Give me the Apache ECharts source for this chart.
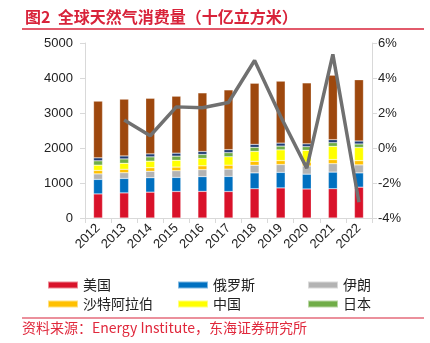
<!DOCTYPE html>
<html><head><meta charset="utf-8">
<script src="https://cdn.jsdelivr.net/npm/echarts@6/dist/echarts.min.js"></script>
<style>html,body{margin:0;padding:0;background:#fff}#c{width:430px;height:343px}</style>
</head><body><div id="c"></div>
<script>
const years = ['2012','2013','2014','2015','2016','2017','2018','2019','2020','2021','2022'];
const us     = [688, 717, 739, 758, 761, 757, 835, 860, 829, 836, 881];
const russia = [416, 414, 411, 402, 421, 431, 454, 444, 423, 475, 408];
const iran   = [156, 162, 184, 190, 199, 209, 219, 224, 234, 242, 229];
const saudi  = [99, 100, 102, 105, 110, 112, 112, 111, 113, 117, 120];
const china  = [151, 171, 188, 195, 209, 241, 283, 308, 336, 378, 376];
const japan  = [124, 124, 123, 118, 116, 117, 116, 108, 104, 104, 101];
const otherA = [85, 85, 85, 85, 85, 85, 85, 85, 80, 85, 85];
const rest   = [1620, 1623, 1588, 1627, 1674, 1708, 1746, 1770, 1741, 1843, 1750];
const growth = [null, 1.6, 0.7, 2.35, 2.3, 2.6, 5.0, 1.8, -1.15, 5.35, -3.1];
const leftTicks = [0, 1000, 2000, 3000, 4000, 5000];

const FONT = '"Noto Sans CJK SC", "Noto Sans", sans-serif';
const NUMFONT = '"Liberation Sans", Arial, sans-serif';
const chart = echarts.init(document.getElementById('c'), null, {renderer: 'canvas'});
const barStyle = c => ({color: c, borderColor: 'rgba(255,255,255,0.5)', borderWidth: 0.5});
function bar(name, data, color) {
  return {name, type: 'bar', stack: 'a', data, barWidth: 9, itemStyle: barStyle(color), yAxisIndex: 0};
}
const legendCommon = {orient: 'vertical', top: 273, itemWidth: 30, itemHeight: 7, itemGap: 5, icon: 'rect',
  textStyle: {fontSize: 14, color: '#222', fontFamily: FONT}, selectedMode: false};
chart.setOption({
  animation: false,
  textStyle: {fontFamily: FONT},
  grid: {left: 85, right: 58, top: 43, bottom: 125},
  title: {text: '图2  全球天然气消费量（十亿立方米）', left: 20, top: 4,
    textStyle: {fontSize: 16, fontWeight: 'bold', color: '#d8233a', fontFamily: FONT}},
  legend: [
    Object.assign({left: 42, data: ['美国', '沙特阿拉伯']}, legendCommon),
    Object.assign({left: 172, data: ['俄罗斯', '中国']}, legendCommon),
    Object.assign({left: 302, data: ['伊朗', '日本']}, legendCommon)
  ],
  xAxis: {type: 'category', data: years,
    axisLine: {lineStyle: {color: '#d9d9d9'}},
    axisTick: {show: true, lineStyle: {color: '#d9d9d9'}},
    axisLabel: {rotate: 45, fontSize: 13, color: '#222', margin: 8, fontFamily: NUMFONT}},
  yAxis: [
    {type: 'value', min: leftTicks[0], max: leftTicks[leftTicks.length - 1], interval: 1000,
      axisLine: {show: true, lineStyle: {color: '#d9d9d9'}},
      axisTick: {show: true, lineStyle: {color: '#d9d9d9'}},
      splitLine: {show: false},
      axisLabel: {fontSize: 13, color: '#222', margin: 12, fontFamily: NUMFONT, formatter: v => String(v)}},
    {type: 'value', min: -4, max: 6, interval: 2,
      axisLine: {show: true, lineStyle: {color: '#d9d9d9'}},
      axisTick: {show: true, lineStyle: {color: '#d9d9d9'}},
      splitLine: {show: false},
      axisLabel: {fontSize: 13, color: '#222', margin: 6, formatter: '{value}%', fontFamily: NUMFONT}}
  ],
  graphic: [
    {type: 'line', shape: {x1: 22, y1: 29, x2: 424, y2: 29}, style: {stroke: '#d8233a', lineWidth: 1.5}},
    {type: 'line', shape: {x1: 22, y1: 318, x2: 424, y2: 318}, style: {stroke: '#d8233a', lineWidth: 1.2}},
    {type: 'text', left: 22, top: 321, style: {text: '资料来源：Energy Institute，东海证券研究所', fill: '#e0283c', fontSize: 14, fontFamily: FONT}}
  ],
  series: [
    bar('美国', us, '#d9122a'),
    bar('俄罗斯', russia, '#0070c0'),
    bar('伊朗', iran, '#b3b3b3'),
    bar('沙特阿拉伯', saudi, '#ffc000'),
    bar('中国', china, '#ffff00'),
    bar('日本', japan, '#70ad47'),
    bar('其他A', otherA, '#1f3c73'),
    bar('其他', rest, '#9e480e'),
    {name: '增速', type: 'line', yAxisIndex: 1, data: growth, symbol: 'none',
      lineStyle: {color: '#707070', width: 3.5}, z: 10}
  ]
});
</script></body></html>
